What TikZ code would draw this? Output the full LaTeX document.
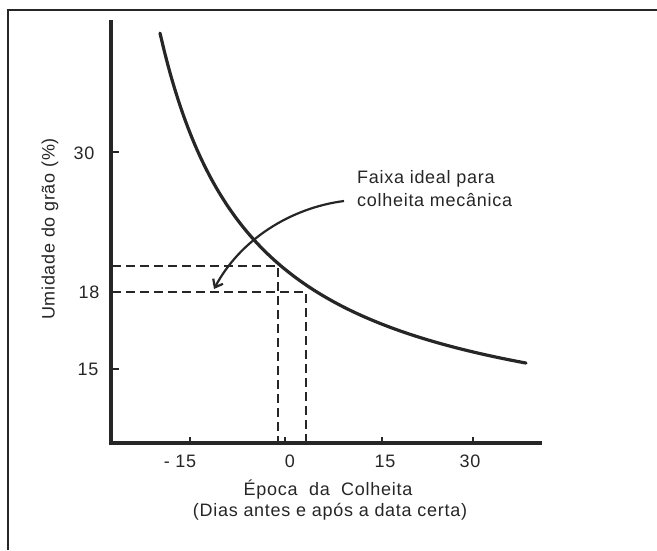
\documentclass[tikz,border=0pt]{standalone}
\usepackage{fontspec}
\setmainfont{Liberation Sans}
\newfontfamily\lblfont[LetterSpace=4]{Liberation Sans}
\usetikzlibrary{arrows.meta}
\begin{document}
\begin{tikzpicture}[x=1pt,y=-1pt,
  txt/.style={font=\lblfont\fontsize{18}{21}\selectfont, inner sep=0pt, text=black!85},
  axisline/.style={line width=3.2pt, black!85},
  curveline/.style={line width=3.2pt, black!85, line cap=round},
  dashline/.style={line width=2.2pt, black!85, dash pattern=on 9pt off 5pt},
  frameline/.style={line width=2.2pt, black!85},
  tickline/.style={line width=2.6pt, black!85}
]
\useasboundingbox (0,0) rectangle (657,550);
% frame
\draw[frameline] (8,550) -- (8,10) -- (657,10);
% axes
\coordinate (ytop) at (111,20);
\coordinate (orig) at (111,443);
\coordinate (xend) at (542,443);
\draw[axisline] (ytop) -- (orig) -- (xend);
% y ticks
\foreach \yy in {152,292,369} \draw[tickline] (111,\yy) -- (119,\yy);
% x ticks
\foreach \xx in {190,285,382,473} \draw[tickline] (\xx,443) -- (\xx,437);
% y tick labels
\node[txt] (y30) at (84,153) {30};
\node[txt] (y18) at (89,292) {18};
\node[txt] (y15) at (88,369) {15};
% x tick labels
\node[txt] (xm15) at (180,461) {- 15};
\node[txt] (x0) at (290,461) {0};
\node[txt] (x15) at (385,461) {15};
\node[txt] (x30) at (470,461) {30};
% axis titles
\node[txt, anchor=base] (xt1) at (328,495) {Época \ da \ Colheita};
\node[txt, anchor=base] (xt2) at (330,516) {(Dias antes e após a data certa)};
\node[txt, rotate=90] (yt) at (50,229) {Umidade do grão (\%)};
% dashed range
\coordinate (h1a) at (112,266);
\coordinate (h1b) at (278,266);
\coordinate (h2a) at (112,292);
\coordinate (h2b) at (306,292);
\coordinate (v1b) at (278,443);
\coordinate (v2b) at (306,443);
\draw[dashline] (h1a) -- (h1b) -- (v1b);
\draw[dashline] (h2a) -- (h2b) -- (v2b);
% curve
\draw[curveline] plot[domain=160:526, samples=80, smooth] (\x, {448.6 - 394.32/((\x-65.1)/100)});
% annotation
\node[txt, anchor=base west] (lab1) at (357,183) {Faixa ideal para};
\node[txt, anchor=base west] (lab2) at (357,206) {colheita mecânica};
\coordinate (arrS) at (344,201);
\coordinate (arrE) at (214,289);
\draw[line width=2.2pt, black!85, -{Straight Barb[length=7pt,width=11pt,line width=2.2pt]}] (arrS) .. controls (290,208) and (240,240) .. (arrE);
\end{tikzpicture}
\end{document}
